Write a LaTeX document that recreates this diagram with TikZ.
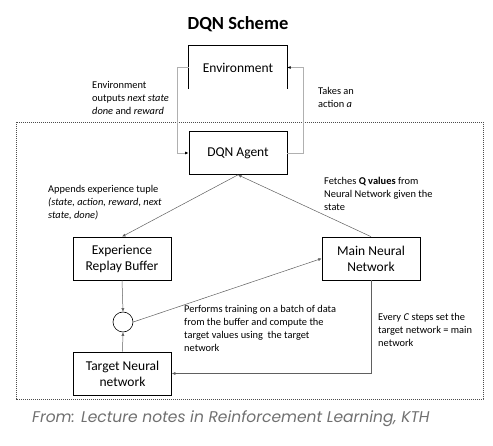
\documentclass[tikz,border=0pt]{standalone}
\usepackage{fontspec}
\setmainfont{Carlito}
\newfontfamily\capfont{Poppins}
\usetikzlibrary{arrows.meta}
\definecolor{loopgray}{HTML}{B0B0B0}
\definecolor{linegray}{HTML}{606060}
\definecolor{capgray}{HTML}{707070}
\tikzset{
  box/.style={minimum width=98pt, minimum height=43pt, inner sep=0pt, align=center, font=\fontsize{13.5}{16}\selectfont},
  boxline/.style={draw=black, line width=0.7pt},
  conn/.style={draw=linegray, line width=0.5pt, -{Latex[length=3.5pt,width=3pt]}},
  loopline/.style={draw=loopgray, line width=0.8pt, -{Latex[length=3.5pt,width=3pt,color=black]}},
  lbl/.style={anchor=north west, inner sep=0pt, align=left, font=\fontsize{10.4}{13}\selectfont},
}
\begin{document}
\begin{tikzpicture}[x=1pt,y=-1pt]
\useasboundingbox (0,0) rectangle (493,446);
% dashed region
\draw[draw=black!70, line width=0.5pt, dash pattern=on 1.2pt off 0.8pt] (16,122) rectangle (483,399);
% title
\node[font=\bfseries\fontsize{18.5}{20}\selectfont] (title) at (238,24) {DQN Scheme};
% boxes
\node[box] (env) at (238,67.5) {Environment};
\draw[boxline] (env.south west) -- (env.north west) -- (env.north east) -- (env.south east);
\node[box, boxline, draw] (agent) at (238,153) {DQN Agent};
\node[box, boxline, draw] (erb) at (122,258.5) {Experience\\Replay Buffer};
\node[box, boxline, draw] (mnn) at (371,258.5) {Main Neural\\Network};
\node[box, boxline, draw] (tnn) at (122.5,373.5) {Target Neural\\network};
\node[circle, draw=black, line width=0.6pt, minimum size=20pt, inner sep=0pt] (circ) at (123,322) {};
% loop
\coordinate (lc) at (177,67.5);
\coordinate (rc) at (303,67.5);
\draw[loopline] (env.west) -- (lc) |- (agent.west);
\draw[loopline] (agent.east) -| (rc) -- (env.east);
% connectors
\draw[conn] (agent.south) -- (erb.north);
\draw[conn] (mnn.north) -- (agent.south);
\draw[conn] (erb.south) -- (circ.north);
\draw[conn] (tnn.north) -- (circ.south);
\draw[conn] (circ.east) -- (mnn.west);
\draw[conn] (mnn.south) |- (tnn.east);
% labels
\node[lbl] (l1) at (92,81) {Environment\\outputs \textit{next state}\\\textit{done} and \textit{reward}};
\node[lbl] (l2) at (318,87) {Takes an\\action \textit{a}};
\node[lbl] (l3) at (48,185) {Appends experience tuple\\\textit{(state, action, reward, next}\\\textit{state, done)}};
\node[lbl] (l4) at (324,177) {Fetches \textbf{Q values} from\\Neural Network given the\\state};
\node[lbl] (l5) at (184,305) {Performs training on a batch of data\\from the buffer and compute the\\target values using\ \ the target\\network};
\node[lbl] (l6) at (378,313) {Every \textit{C} steps set the\\target network = main\\network};
% caption
\node[anchor=west, inner sep=0pt, text=capgray, font=\capfont\itshape\fontsize{15.5}{18}\selectfont] (cap) at (32,419) {From: Lecture notes in Reinforcement Learning, KTH};
\end{tikzpicture}
\end{document}
